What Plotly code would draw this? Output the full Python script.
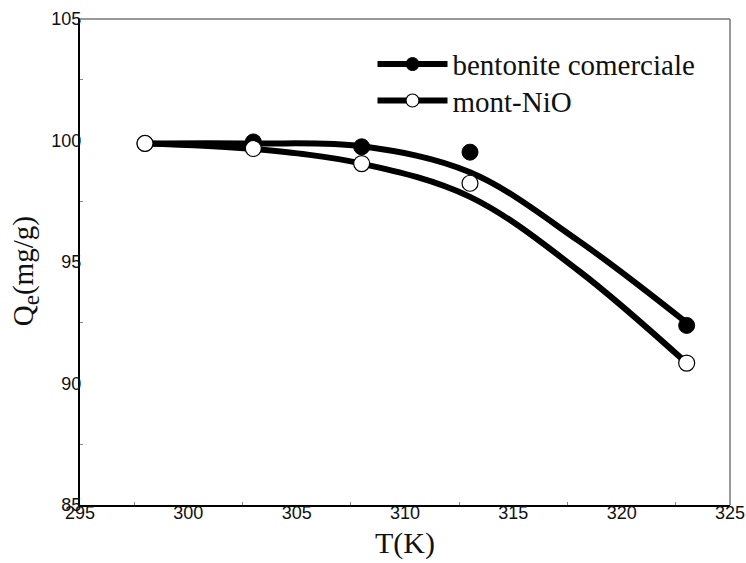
import plotly.graph_objects as go

# Measured adsorption capacity at each temperature
T_points = [298, 303, 308, 313, 323]
bentonite_qe = [99.88, 99.94, 99.74, 99.52, 92.39]
mont_qe = [99.88, 99.67, 99.05, 98.24, 90.84]

# Smoothed trend curves
T_fit = [298, 303, 308, 313, 318, 323]
bentonite_fit = [99.88, 99.88, 99.76, 98.69, 95.88, 92.5]
mont_fit = [99.88, 99.65, 99.05, 97.68, 94.65, 90.84]

series_names = ["bentonite comerciale", "mont-NiO"]

LINE_W = 6
MARK = 16

fig = go.Figure()

# Trend curves
for fit in (bentonite_fit, mont_fit):
    fig.add_trace(go.Scatter(x=T_fit, y=fit, mode="lines", line_shape="spline",
                             line=dict(color="black", width=LINE_W, smoothing=1.0),
                             showlegend=False, hoverinfo="skip"))

# Data points
fig.add_trace(go.Scatter(x=T_points, y=bentonite_qe, mode="markers",
                         marker=dict(symbol="circle", size=MARK, color="black",
                                     line=dict(color="black", width=1)),
                         showlegend=False))
fig.add_trace(go.Scatter(x=T_points, y=mont_qe, mode="markers",
                         marker=dict(symbol="circle", size=MARK, color="white",
                                     line=dict(color="black", width=1.2)),
                         showlegend=False))

# Legend entries (line + marker), one legend box per series
fig.add_trace(go.Scatter(x=[None], y=[None], mode="lines+markers", name=series_names[0],
                         line=dict(color="black", width=LINE_W),
                         marker=dict(symbol="circle", size=13, color="black",
                                     line=dict(color="black", width=1)),
                         legend="legend"))
fig.add_trace(go.Scatter(x=[None], y=[None], mode="lines+markers", name=series_names[1],
                         line=dict(color="black", width=LINE_W),
                         marker=dict(symbol="circle", size=13, color="white",
                                     line=dict(color="black", width=1.2)),
                         legend="legend2"))

tick_font = dict(family="Liberation Sans, Arial, sans-serif", size=18, color="#111")
title_font = dict(family="Liberation Serif, Times New Roman, serif", size=30, color="#111")
legend_font = dict(family="Liberation Serif, Times New Roman, serif", size=29, color="#111")

legend_style = dict(xanchor="left", yanchor="middle", bgcolor="rgba(0,0,0,0)",
                    borderwidth=0, font=legend_font, itemwidth=70)

fig.update_layout(
    width=746, height=563,
    margin=dict(l=80, r=16, t=19, b=58, autoexpand=False),
    paper_bgcolor="white", plot_bgcolor="white",
    showlegend=True,
    legend=dict(x=0.450, y=0.907, **legend_style),
    legend2=dict(x=0.450, y=0.832, **legend_style),
    xaxis=dict(range=[295, 325], dtick=5, tick0=295, showgrid=False, zeroline=False,
               showline=True, linecolor="black", linewidth=2, automargin=False,
               ticks="", ticklabelstandoff=-10, tickfont=tick_font,
               minor=dict(dtick=2.5, ticks="inside", ticklen=3, tickcolor="#888", tickwidth=1),
               title=dict(text="T(K)", font=title_font, standoff=10)),
    yaxis=dict(range=[85, 105], dtick=5, tick0=85, showgrid=False, zeroline=False,
               showline=True, linecolor="black", linewidth=2, automargin=False,
               ticks="", ticklabelstandoff=-7, tickfont=tick_font,
               minor=dict(dtick=2.5, ticks="inside", ticklen=3, tickcolor="#888", tickwidth=1)),
    annotations=[dict(text="Q<sub><span style='font-size:23px'>e</span></sub>(mg/g)",
                      textangle=-90, xref="paper", yref="paper", x=0, y=0.481,
                      xanchor="center", yanchor="middle", xshift=-55, showarrow=False,
                      font=dict(family="Liberation Serif, Times New Roman, serif", size=29, color="#111"))],
)

# Thin grey frame on top and right sides
fig.add_shape(type="line", xref="paper", yref="paper", x0=0, x1=1, y0=1, y1=1,
              line=dict(color="#777", width=1.5))
fig.add_shape(type="line", xref="paper", yref="paper", x0=1, x1=1, y0=0, y1=1,
              line=dict(color="#777", width=1.5))

fig.write_html("out.html")
